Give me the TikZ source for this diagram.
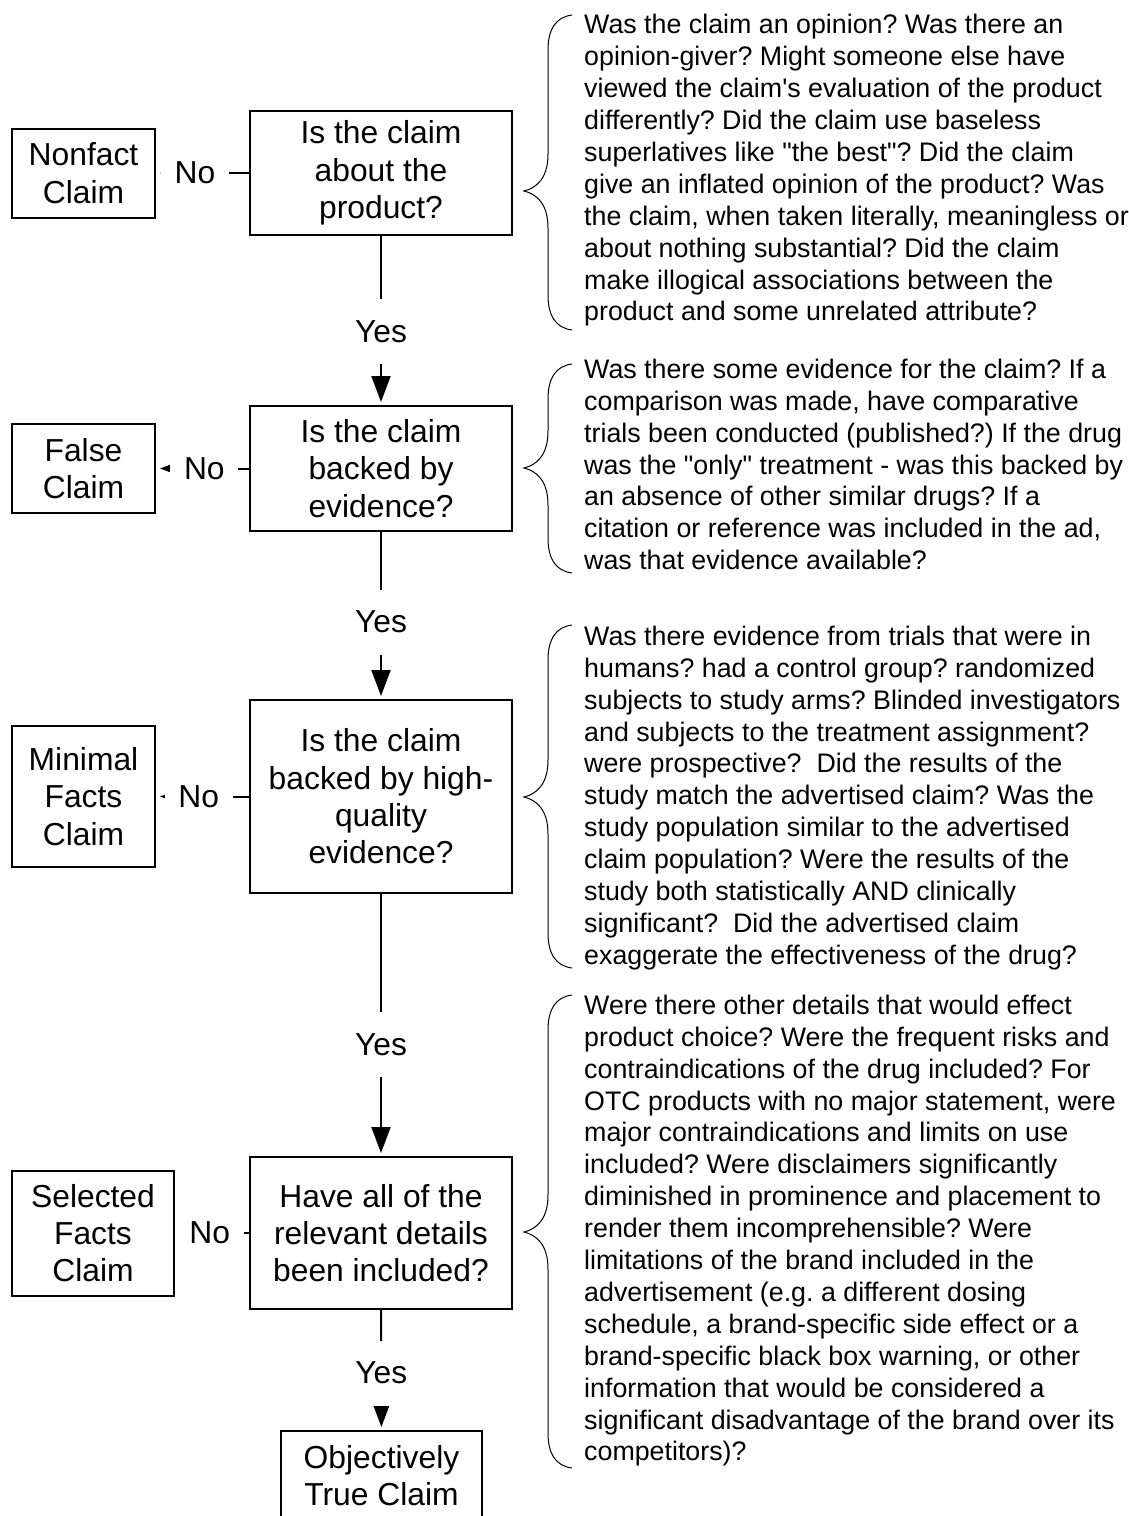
\documentclass[tikz,border=0pt]{standalone}
\usepackage{fontspec}
\setmainfont{Liberation Sans}[Ligatures=TeXOff]
\frenchspacing
\usetikzlibrary{arrows.meta}
\tikzset{
  qbox/.style={draw, line width=2pt, minimum width=262pt, align=center, inner sep=0pt,
    font=\fontsize{31.8}{37.3}\selectfont},
  endbox/.style={draw, line width=2pt, align=center, inner sep=0pt,
    font=\fontsize{31.8}{37.3}\selectfont},
  answer/.style={fill=white, minimum width=68pt, minimum height=65pt, inner sep=0pt,
    font=\fontsize{31.8}{37.3}\selectfont},
  flow/.style={line width=2pt, -{Triangle[length=26pt,width=19pt]}, shorten >=3pt},
  note/.style={anchor=north west, align=left, inner sep=0pt,
    font=\fontsize{26.8}{31.9}\selectfont}
}
\begin{document}
\begin{tikzpicture}[x=1pt,y=-1pt]
      \useasboundingbox (0,0) rectangle (1129,1516);
      \clip (0,0) rectangle (1129,1516);
      % questions
      \node[qbox, minimum height=124pt] (q1) at (381,173) {Is the claim\\about the\\product?};
      \node[qbox, minimum height=125pt] (q2) at (381,468.5) {Is the claim\\backed by\\evidence?};
      \node[qbox, minimum height=193pt] (q3) at (381,796.5) {Is the claim\\backed by high-\\quality\\evidence?};
      \node[qbox, minimum height=152pt] (q4) at (381,1233) {Have all of the\\relevant details\\been included?};
      % outcomes
      \node[endbox, minimum width=143pt, minimum height=89pt] (nonfact) at (83.5,173) {Nonfact\\Claim};
      \node[endbox, minimum width=143pt, minimum height=89pt] (false) at (83.5,468.5) {False\\Claim};
      \node[endbox, minimum width=143pt, minimum height=141pt] (minimal) at (83.5,796.5) {Minimal\\Facts\\Claim};
      \node[endbox, minimum width=162pt, minimum height=125pt] (selected) at (93,1233) {Selected\\Facts\\Claim};
      \node[endbox, minimum width=201pt, minimum height=89pt] (true) at (381.5,1475.5) {Objectively\\True Claim};
      % yes / no
      \draw[flow] (q1) -- node[answer, pos=0.568] {Yes} (q2);
      \draw[flow] (q2) -- node[answer, pos=0.539] {Yes} (q3);
      \draw[flow] (q3) -- node[answer, pos=0.576] {Yes} (q4);
      \draw[flow] (q4) -- node[answer, pos=0.525] {Yes} (true);
      \draw[flow, shorten >=4pt] (q1) -- node[answer, pos=0.58] {No} (nonfact);
      \draw[flow, shorten >=4pt] (q2) -- node[answer, pos=0.48] {No} (false);
      \draw[flow, shorten >=4pt] (q3) -- node[answer, pos=0.54] {No} (minimal);
      \draw[flow, shorten >=4pt] (q4) -- node[answer, pos=0.53] {No} (selected);
      % braces
      \foreach \ta/\tb/\tc in {15/191/330, 364/468/573, 625/797/968, 995/1232/1468}
        \draw[line width=1pt] (572,\ta) .. controls (556,\ta+2) and (548,\ta+14) .. (548,\ta+35)
          -- (548,\tb-37) .. controls (548,\tb-12) and (536,\tb-3) .. (524,\tb)
          .. controls (536,\tb+3) and (548,\tb+12) .. (548,\tb+37)
          -- (548,\tc-35) .. controls (548,\tc-14) and (556,\tc-2) .. (572,\tc);
      % notes
      \node[note] (notea) at (584,14.2) {Was the claim an opinion? Was there an\\
        opinion-giver? Might someone else have\\
        viewed the claim's evaluation of the product\\
        differently? Did the claim use baseless\\
        superlatives like "the best"? Did the claim\\
        give an inflated opinion of the product? Was\\
        the claim, when taken literally, meaningless or\\
        about nothing substantial? Did the claim\\
        make illogical associations between the\\
        product and some unrelated attribute?};
      \node[note] (noteb) at (584,358.7) {Was there some evidence for the claim? If a\\
        comparison was made, have comparative\\
        trials been conducted (published?) If the drug\\
        was the "only" treatment - was this backed by\\
        an absence of other similar drugs? If a\\
        citation or reference was included in the ad,\\
        was that evidence available?};
      \node[note] (notec) at (584,625.7) {Was there evidence from trials that were in\\
        humans? had a control group? randomized\\
        subjects to study arms? Blinded investigators\\
        and subjects to the treatment assignment?\\
        were prospective?~ Did the results of the\\
        study match the advertised claim? Was the\\
        study population similar to the advertised\\
        claim population? Were the results of the\\
        study both statistically AND clinically\\
        significant?~ Did the advertised claim\\
        exaggerate the effectiveness of the drug?};
      \node[note] (noted) at (584,994.7) {Were there other details that would effect\\
        product choice? Were the frequent risks and\\
        contraindications of the drug included? For\\
        OTC products with no major statement, were\\
        major contraindications and limits on use\\
        included? Were disclaimers significantly\\
        diminished in prominence and placement to\\
        render them incomprehensible? Were\\
        limitations of the brand included in the\\
        advertisement (e.g. a different dosing\\
        schedule, a brand-specific side effect or a\\
        brand-specific black box warning, or other\\
        information that would be considered a\\
        significant disadvantage of the brand over its\\
        competitors)?};
\end{tikzpicture}
\end{document}
